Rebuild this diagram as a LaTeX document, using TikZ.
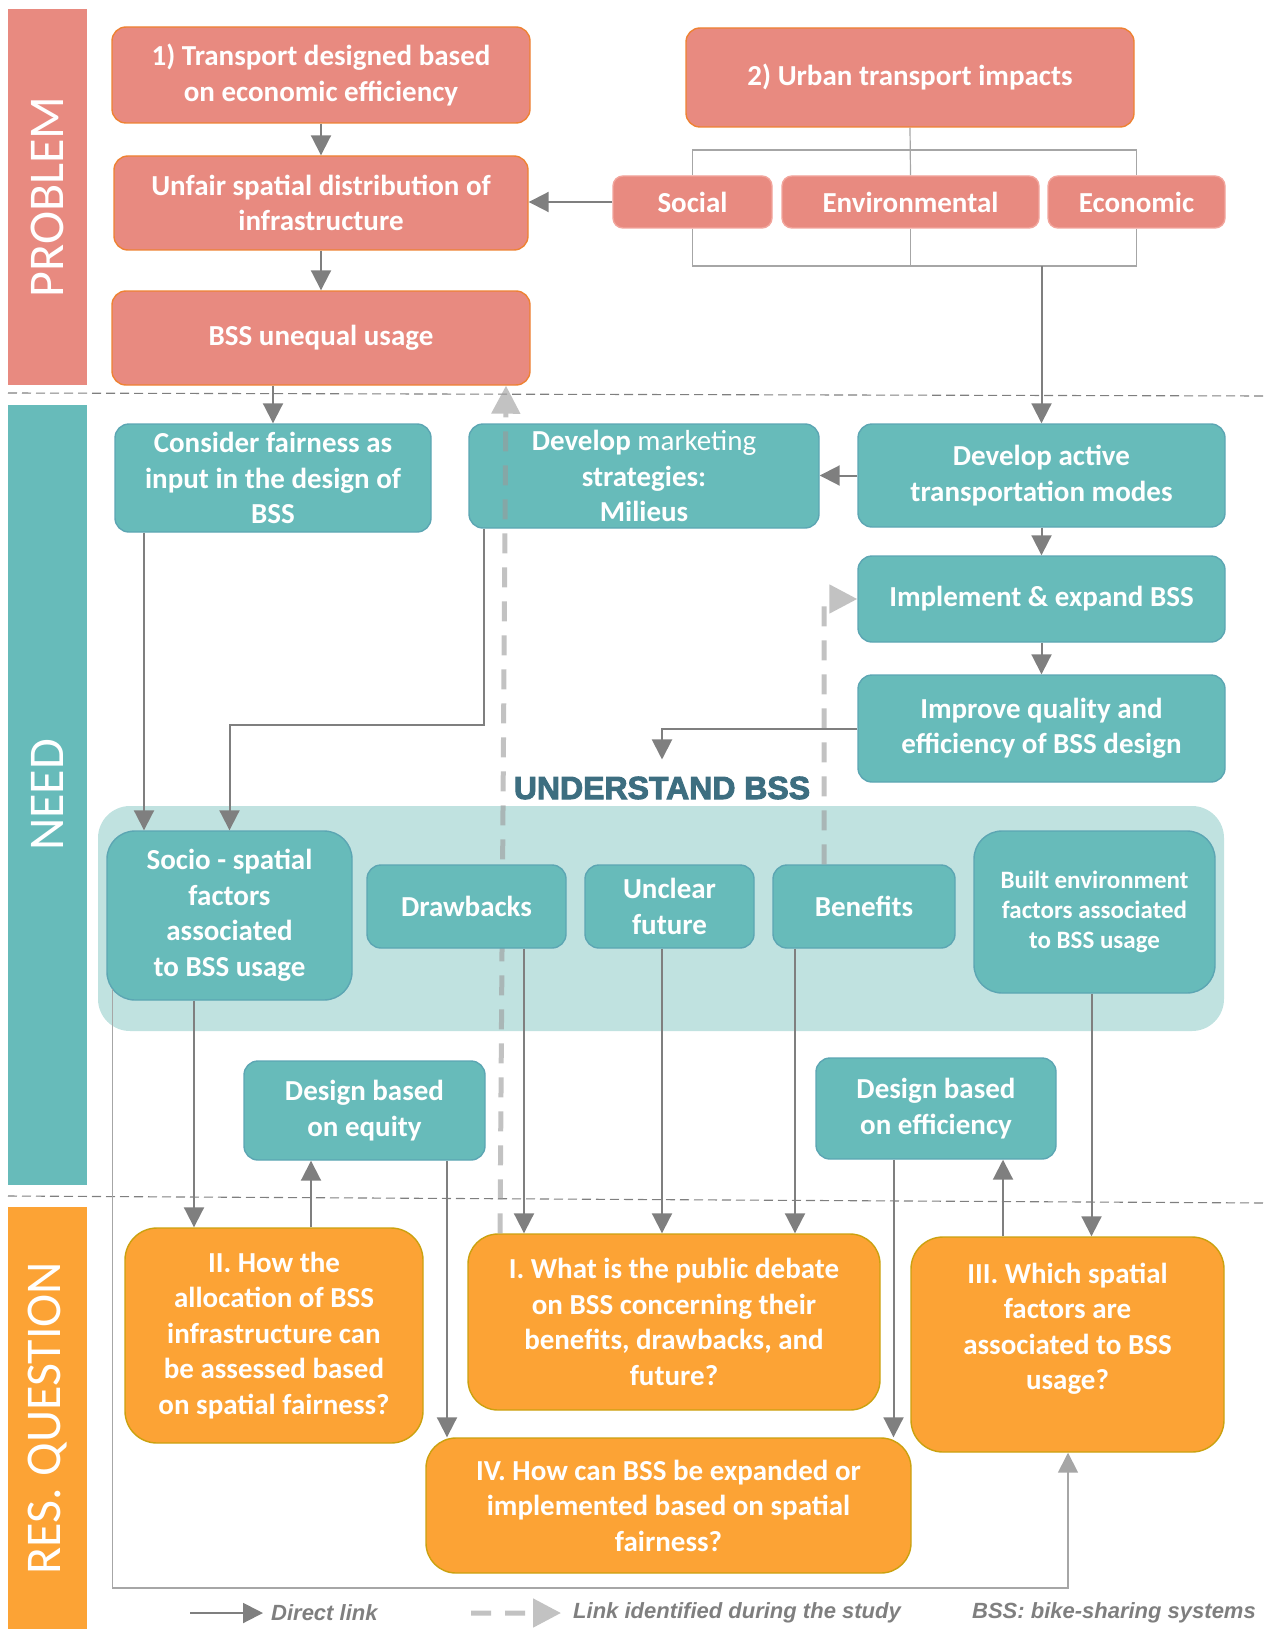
\documentclass[tikz,border=0pt]{standalone}
\usepackage{fontspec}
\setmainfont{Carlito}
\newfontfamily\headfont{Liberation Sans}[BoldFeatures={FakeBold=3}]
\newfontfamily\notefont{Liberation Sans}
\usetikzlibrary{arrows.meta,calc}
\pgfdeclarelayer{back}
\pgfsetlayers{back,main}

\definecolor{salmonfill}{HTML}{E88A80}
\definecolor{salmonedge}{HTML}{EE8233}
\definecolor{pinkedge}{HTML}{F2A59C}
\definecolor{tealfill}{HTML}{67BBBA}
\definecolor{tealedge}{HTML}{5CA6B3}
\definecolor{tealpale}{HTML}{C0E2E0}
\definecolor{orangefill}{HTML}{FCA335}
\definecolor{orangeedge}{HTML}{CBA10F}
\definecolor{linkgray}{HTML}{7F7F7F}
\definecolor{bracketgray}{HTML}{A6A6A6}
\definecolor{studygray}{HTML}{9A9A9A}
\definecolor{headteal}{HTML}{3D6E80}

\begin{document}
\begin{tikzpicture}[x=1pt,y=-1pt,
  band/.style={fill=#1, draw=none, inner sep=0pt},
  bandlabel/.style={rotate=90, text=white, font=\fontsize{50}{60}\selectfont, inner sep=0pt},
  box/.style={rounded corners=14pt, align=center, text=white, inner sep=0pt, line width=1.4pt,
    font=\bfseries\fontsize{29}{35.5}\selectfont},
  pbox/.style={box, fill=salmonfill, draw=salmonedge},
  ibox/.style={box, fill=salmonfill, draw=pinkedge, rounded corners=10pt},
  nbox/.style={box, fill=tealfill, draw=tealedge},
  qbox/.style={box, fill=orangefill, draw=orangeedge, rounded corners=32pt},
  link/.style={draw=linkgray, line width=2pt, -{Triangle[length=20pt,width=20pt]}},
  sidelink/.style={link, draw=bracketgray, line width=1.6pt},
  studylink/.style={draw=studygray, line width=5pt, dash pattern=on 20pt off 14pt,
    -{Triangle[length=28pt,width=28pt]}},
  seethrough/.style={transparency group, opacity=0.6},
  bracket/.style={draw=bracketgray, line width=1.2pt},
  sep/.style={draw=linkgray, line width=1.1pt, dash pattern=on 9pt off 5pt},
  note/.style={font=\notefont\bfseries\itshape\fontsize{22}{26}\selectfont, text=linkgray, inner sep=0pt}
]
\useasboundingbox (0,0) rectangle (1266,1629);

% side bands
\node[band=salmonfill, minimum width=79pt, minimum height=376pt] (bandP) at (47.5,197) {};
\node[bandlabel] (labP) at (bandP.center) {PROBLEM};
\node[band=tealfill, minimum width=79pt, minimum height=780pt] (bandN) at (47.5,795) {};
\node[bandlabel] (labN) at (bandN.center) {NEED};
\node[band=orangefill, minimum width=79pt, minimum height=422pt] (bandR) at (47.5,1418) {};
\node[bandlabel] (labR) at (bandR.center) {RES. QUESTION};

% section separators
\coordinate (sepA0) at (8,393);  \coordinate (sepA1) at (1266,396);
\coordinate (sepB0) at (8,1196); \coordinate (sepB1) at (1266,1203);
\draw[sep] (sepA0) -- (sepA1);
\draw[sep] (sepB0) -- (sepB1);

% problem
\node[pbox, minimum width=418pt, minimum height=96pt] (p1) at (321,75) {1) Transport designed based\\on economic efficiency};
\node[pbox, minimum width=414pt, minimum height=94pt] (p2) at (321,203) {Unfair spatial distribution of\\infrastructure};
\node[pbox, minimum width=418pt, minimum height=94pt] (p3) at (321,338) {BSS unequal usage};
\node[pbox, minimum width=448pt, minimum height=99pt] (p4) at (910,77.5) {2) Urban transport impacts};
\node[ibox, minimum width=159pt, minimum height=52pt] (soc) at (692.5,202) {Social};
\node[ibox, minimum width=257pt, minimum height=52pt] (env) at (910.5,202) {Environmental};
\node[ibox, minimum width=177pt, minimum height=52pt] (eco) at (1136.5,202) {Economic};

% need
\node[nbox, minimum width=316pt, minimum height=108pt] (n1) at (273,478) {Consider fairness as\\input in the design of\\BSS};
\node[nbox, minimum width=350pt, minimum height=104pt] (n2) at (644,476) {Develop \textmd{marketing}\\strategies:\\Milieus};
\node[nbox, minimum width=367pt, minimum height=103pt] (n3) at (1041.5,475.5) {Develop active\\transportation modes};
\node[nbox, minimum width=367pt, minimum height=86pt] (n4) at (1041.5,599) {Implement \& expand BSS};
\node[nbox, minimum width=367pt, minimum height=107pt] (n5) at (1041.5,728.5) {Improve quality and\\efficiency of BSS design};

% research questions
\node[qbox, minimum width=298pt, minimum height=215pt] (q2) at (274,1335.5) {II. How the\\allocation of BSS\\infrastructure can\\be assessed based\\on spatial fairness?};
\node[qbox, rounded corners=30pt, minimum width=412pt, minimum height=176pt] (q1) at (674,1322) {I. What is the public debate\\on BSS concerning their\\benefits, drawbacks, and\\future?};
\node[qbox, minimum width=313pt, minimum height=215pt] (q3) at (1067.5,1344.5) {};
\node[box] (q3text) at ([yshift=16pt]q3.center) {III. Which spatial\\factors are\\associated to BSS\\usage?};
\node[qbox, rounded corners=30pt, minimum width=485pt, minimum height=135pt] (q4) at (668.5,1505.5) {IV. How can BSS be expanded or\\implemented based on spatial\\fairness?};

% group backdrop and impact brackets
\begin{pgfonlayer}{back}
\node[fill=tealpale, rounded corners=32pt, minimum width=1126pt, minimum height=225pt, inner sep=0pt] (understand) at (661,918.5) {};
\coordinate (topbar) at (0,150);
\coordinate (botbar) at (0,266);
\draw[bracket] (p4.south) -- (env.north);
\draw[bracket] (soc.north) -- (soc.north |- topbar) -- (eco.north |- topbar) -- (eco.north);
\draw[bracket] (soc.south) -- (soc.south |- botbar) -- (eco.south |- botbar) -- (eco.south);
\draw[bracket] (env.south) -- (env.south |- botbar);
\end{pgfonlayer}

\node[font=\headfont\bfseries\fontsize{32}{38}\selectfont, text=headteal, inner xsep=0pt, inner ysep=17pt] (title) at (662,788) {UNDERSTAND BSS};

% link found during the study (runs over the marketing box)
\begin{scope}[seethrough]
\draw[studylink] ([xshift=-174pt]q1.north) -- ([xshift=185pt]p3.south);
\end{scope}

% understand BSS
\node[nbox, rounded corners=28pt, minimum width=245pt, minimum height=169pt] (s1) at (229.5,915.5) {Socio - spatial\\factors\\associated\\to BSS usage};
\node[nbox, minimum width=199pt, minimum height=83pt] (dr) at (466.5,906.5) {Drawbacks};
\node[nbox, minimum width=169pt, minimum height=83pt] (uf) at (669.5,906.5) {Unclear\\future};
\node[nbox, minimum width=182pt, minimum height=83pt] (bf) at (864,906.5) {Benefits};
\node[nbox, rounded corners=28pt, minimum width=241pt, minimum height=162pt, font=\bfseries\fontsize{25}{30}\selectfont] (be) at (1094.5,912) {Built environment\\factors associated\\to BSS usage};
\node[nbox, minimum width=241pt, minimum height=99pt] (de) at (364.5,1110.5) {Design based\\on equity};
\node[nbox, minimum width=240pt, minimum height=101pt] (df) at (936,1108.5) {Design based\\on efficiency};

\begin{scope}[seethrough]
\draw[studylink] ([xshift=-40pt]bf.north) -- ([xshift=-40pt]bf.north |- n4.west) -- (n4.west);
\end{scope}

% direct links
\coordinate (impactjoin) at (1041.5,266);
\draw[link] (impactjoin) -- (n3.north);
\draw[link] (p1.south) -- (p2.north);
\draw[link] (p2.south) -- (p3.north);
\draw[link] (soc.west) -- (soc.west -| p2.east);
\draw[link] (n1.north |- p3.south) -- (n1.north);
\draw[link] (n3.west) -- (n3.west -| n2.east);
\draw[link] (n3.south) -- (n4.north);
\draw[link] (n4.south) -- (n5.north);
\draw[link] (n5.west) -| (title.north);
\draw[link] ([xshift=-129pt]n1.south) -- ([xshift=-129pt]n1.south |- s1.north);
\draw[link] ([xshift=-160pt]n2.south) -- ++(0,196) -| (s1.north);
\draw[link] ([xshift=-35.5pt]s1.south) -- ([xshift=-35.5pt]s1.south |- q2.north);
\draw[link] ([xshift=37pt]q2.north) -- ([xshift=37pt]q2.north |- de.south);
\draw[link] ([xshift=82.5pt]de.south) -- ([xshift=82.5pt]de.south |- q4.north);
\draw[link] ([xshift=57.5pt]dr.south) -- ([xshift=57.5pt]dr.south |- q1.north);
\draw[link] ([xshift=-7.5pt]uf.south) -- ([xshift=-7.5pt]uf.south |- q1.north);
\draw[link] ([xshift=-69pt]bf.south) -- ([xshift=-69pt]bf.south |- q1.north);
\draw[link] ([xshift=-42.5pt]df.south) -- ([xshift=-42.5pt]df.south |- q4.north);
\draw[link] ([xshift=-64.5pt]q3.north) -- ([xshift=-64.5pt]q3.north |- df.south);
\draw[link] ([xshift=-3pt]be.south) -- ([xshift=-3pt]be.south |- q3.north);
\coordinate (footrow) at (0,1588);
\draw[sidelink] ([xshift=6pt,yshift=12pt]s1.south west) -- ([xshift=6pt]s1.south west |- footrow) -| ([xshift=0.5pt]q3.south);

% legend
\coordinate (legA) at (190,1613); \coordinate (legB) at (263,1613);
\draw[link] (legA) -- (legB);
\node[note, anchor=west] (legAtext) at (271,1613) {Direct link};
\coordinate (legC) at (471,1613); \coordinate (legD) at (561,1613);
\begin{scope}[seethrough]
\draw[studylink] (legC) -- (legD);
\end{scope}
\node[note, anchor=west] (legCtext) at (573,1613) {Link identified during the study};
\node[note, anchor=east] (abbrev) at (1256,1613) {BSS: bike-sharing systems};
\end{tikzpicture}
\end{document}
